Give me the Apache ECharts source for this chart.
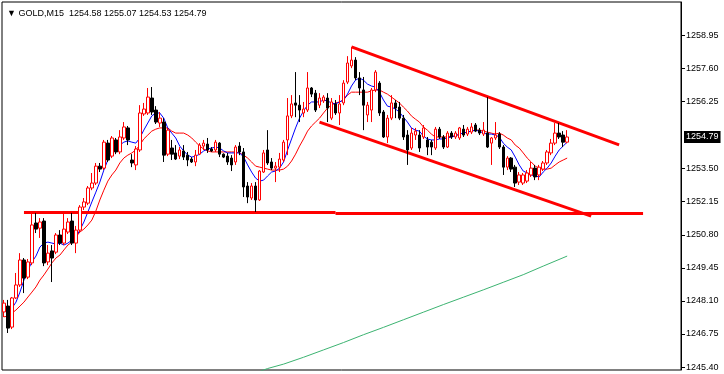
<!DOCTYPE html>
<html>
<head>
<meta charset="utf-8">
<script src="https://cdn.jsdelivr.net/npm/echarts@6/dist/echarts.min.js"></script>
<style>
html,body{margin:0;padding:0;background:#fff;}
#chart{width:724px;height:374px;}
</style>
</head>
<body>
<div id="chart"></div>
<script>
var titleText = '\u25BC GOLD,M15  1254.58 1255.07 1254.53 1254.79';
var slotCount = 170;
var tickLabels = ['1245.40','1246.75','1248.10','1249.45','1250.80','1252.15','1253.50','1256.25','1257.60','1258.95'];
var currentPrice = 1254.79;

var opens = [1247.65,1247.89,1247.03,1248.22,1248.75,1249.77,1249.07,1249.65,1251.28,1251.07,
1251.36,1249.69,1250.14,1250.09,1250.79,1250.46,1250.91,1251.36,1250.46,1250.99,
1251.93,1252.09,1252.71,1252.91,1253.60,1253.52,1254.54,1254.01,1254.67,1254.18,
1254.75,1255.16,1253.85,1253.65,1254.26,1255.73,1255.77,1256.38,1255.89,1255.36,
1255.40,1254.09,1254.34,1254.14,1254.01,1254.22,1254.05,1253.89,1253.77,1254.09,
1254.42,1254.50,1254.30,1254.26,1254.54,1254.09,1254.01,1253.93,1253.77,1254.42,
1254.18,1252.79,1252.30,1252.79,1252.22,1253.36,1254.26,1253.77,1253.52,1253.56,
1253.85,1254.67,1255.65,1256.18,1256.09,1255.77,1255.89,1256.79,1256.58,1256.09,
1256.26,1256.38,1255.56,1256.14,1255.77,1256.18,1257.03,1257.69,1257.93,1257.20,
1256.71,1255.69,1255.89,1256.71,1256.99,1255.81,1254.79,1255.56,1256.18,1256.01,
1255.56,1254.87,1254.34,1254.87,1254.87,1254.79,1254.67,1254.58,1254.34,1255.11,
1254.79,1254.38,1254.95,1254.79,1254.75,1255.11,1254.91,1254.99,1255.28,1255.07,
1254.91,1254.95,1254.54,1254.75,1254.91,1254.38,1253.56,1253.93,1253.56,1252.95,
1252.91,1252.99,1253.24,1253.52,1253.24,1253.48,1253.73,1254.14,1254.54,1254.95,
1254.87,1254.58];

var closes = [1248.01,1246.99,1248.22,1248.75,1249.77,1249.03,1249.69,1251.20,1251.03,1251.32,
1249.65,1250.05,1249.85,1250.79,1250.46,1251.03,1251.32,1250.46,1250.99,1251.93,
1252.14,1252.71,1252.91,1253.60,1253.48,1254.58,1253.85,1254.75,1254.18,1254.79,
1255.20,1254.67,1253.73,1254.30,1255.77,1255.93,1256.42,1255.81,1255.40,1255.56,
1254.05,1255.07,1254.09,1253.89,1254.26,1253.97,1253.85,1253.77,1254.05,1254.46,
1254.54,1254.26,1254.22,1254.58,1254.09,1253.97,1253.77,1253.65,1254.38,1254.18,
1252.75,1252.34,1252.79,1252.22,1253.40,1254.14,1253.73,1253.52,1253.60,1253.89,
1254.58,1255.65,1256.14,1256.09,1255.89,1255.93,1256.79,1256.54,1255.89,1256.38,
1256.42,1255.97,1256.22,1255.77,1256.14,1256.99,1257.81,1257.93,1257.20,1256.79,
1256.09,1256.09,1256.71,1257.44,1255.77,1254.79,1255.56,1256.18,1255.97,1255.56,
1254.79,1254.26,1254.95,1255.03,1254.34,1255.16,1254.38,1254.38,1255.11,1254.79,
1254.38,1254.95,1254.79,1254.95,1255.16,1254.87,1255.11,1255.20,1255.03,1254.95,
1255.07,1254.38,1254.75,1254.87,1254.38,1253.56,1253.93,1253.48,1252.91,1253.24,
1253.24,1253.32,1253.52,1253.16,1253.56,1253.73,1254.18,1254.54,1254.95,1254.79,
1254.58,1254.79];

var lows = [1247.44,1246.79,1246.95,1248.18,1248.67,1248.42,1248.99,1249.56,1250.87,1250.67,
1249.52,1249.56,1248.87,1250.01,1250.38,1250.38,1250.83,1250.38,1250.05,1250.91,
1251.81,1252.01,1252.62,1252.83,1253.36,1253.44,1253.77,1253.93,1254.09,1254.09,
1254.67,1254.46,1253.56,1253.44,1254.18,1255.65,1255.69,1255.69,1255.32,1255.20,
1253.77,1254.01,1253.85,1253.85,1253.89,1253.85,1253.60,1253.73,1253.60,1254.05,
1254.26,1254.14,1254.18,1254.18,1253.97,1253.93,1253.65,1253.40,1253.65,1254.05,
1252.34,1252.09,1252.22,1251.73,1252.18,1253.32,1253.65,1253.44,1252.95,1253.36,
1253.77,1254.05,1255.56,1255.60,1255.40,1255.60,1255.81,1256.42,1255.81,1255.97,
1256.18,1255.40,1255.48,1255.69,1255.28,1256.09,1256.95,1257.60,1257.11,1256.50,
1255.07,1255.40,1255.40,1256.62,1255.65,1254.75,1254.54,1255.48,1255.56,1255.48,
1254.67,1253.65,1254.26,1254.67,1254.18,1254.71,1254.05,1254.05,1254.26,1254.71,
1254.30,1254.34,1254.71,1254.71,1254.67,1254.79,1254.83,1254.91,1254.99,1254.87,
1254.83,1254.34,1253.65,1254.67,1254.30,1253.24,1253.44,1253.36,1252.75,1252.83,
1252.83,1252.91,1253.16,1253.03,1253.03,1253.40,1253.65,1254.05,1254.46,1254.71,
1254.38,1254.53];

var highs = [1248.14,1248.14,1248.26,1249.24,1250.05,1249.85,1249.81,1251.69,1251.69,1251.48,
1251.48,1250.38,1250.38,1250.87,1250.99,1251.69,1251.48,1251.69,1251.16,1252.01,
1252.30,1252.79,1253.32,1253.73,1253.73,1254.67,1254.67,1254.83,1254.75,1255.07,
1255.40,1255.24,1254.09,1254.42,1256.09,1256.18,1256.79,1256.83,1256.05,1255.81,
1255.56,1255.16,1254.67,1254.46,1254.38,1254.46,1254.18,1253.97,1254.26,1254.54,
1254.67,1254.75,1254.38,1254.67,1254.58,1254.12,1254.14,1254.05,1254.46,1254.58,
1254.34,1252.95,1252.91,1252.95,1253.44,1254.26,1255.07,1253.93,1253.77,1254.14,
1254.67,1256.38,1256.50,1257.44,1256.50,1256.22,1257.44,1256.83,1256.71,1256.58,
1256.50,1256.58,1256.38,1256.30,1256.50,1257.11,1258.09,1258.46,1258.05,1257.44,
1257.24,1256.22,1256.79,1257.52,1257.07,1255.89,1255.69,1256.50,1256.30,1256.22,
1255.69,1255.07,1255.16,1255.16,1255.07,1255.28,1254.79,1254.67,1255.20,1255.20,
1254.87,1255.03,1255.03,1255.03,1255.20,1255.28,1255.20,1255.36,1255.36,1255.16,
1255.40,1256.42,1254.79,1255.40,1254.99,1254.46,1254.01,1253.97,1253.65,1253.36,
1253.32,1253.44,1253.77,1253.65,1253.65,1253.81,1254.26,1254.71,1255.36,1255.36,
1255.03,1255.07];

var maFast = [1247.66,1247.69,1247.81,1248.05,1248.46,1248.95,1249.36,1249.69,1249.93,1250.30,
1250.46,1250.50,1250.46,1250.42,1250.46,1250.38,1250.46,1250.58,1250.71,1250.99,
1251.32,1251.73,1252.14,1252.54,1252.95,1253.44,1253.85,1254.14,1254.34,1254.46,
1254.58,1254.63,1254.58,1254.54,1254.75,1255.07,1255.36,1255.65,1255.77,1255.77,
1255.56,1255.16,1254.95,1254.75,1254.42,1254.22,1254.05,1253.97,1254.01,1254.09,
1254.22,1254.30,1254.34,1254.38,1254.34,1254.22,1254.14,1254.14,1254.14,1254.14,
1253.97,1253.65,1253.36,1253.11,1252.99,1253.03,1253.20,1253.36,1253.40,1253.52,
1253.77,1254.26,1254.71,1255.16,1255.56,1255.85,1256.09,1256.22,1256.22,1256.22,
1256.30,1256.26,1256.18,1256.14,1256.22,1256.30,1256.54,1256.87,1257.11,1257.20,
1257.11,1256.95,1256.87,1256.83,1256.62,1256.30,1256.05,1256.01,1255.93,1255.81,
1255.60,1255.40,1255.16,1255.07,1255.03,1254.83,1254.71,1254.67,1254.67,1254.71,
1254.71,1254.75,1254.79,1254.83,1254.91,1254.95,1254.99,1255.03,1255.07,1255.03,
1254.95,1254.91,1254.91,1254.87,1254.79,1254.54,1254.38,1254.26,1253.97,1253.65,
1253.40,1253.32,1253.24,1253.20,1253.16,1253.36,1253.52,1253.73,1254.01,1254.26,
1254.42,1254.58];

var maSlow = [1247.45,1247.48,1247.60,1247.73,1247.89,1248.05,1248.26,1248.46,1248.67,1248.95,
1249.16,1249.40,1249.65,1249.85,1249.97,1250.18,1250.38,1250.50,1250.71,1250.91,
1251.03,1251.20,1251.40,1251.77,1252.22,1252.62,1252.99,1253.24,1253.44,1253.73,
1253.93,1254.05,1254.14,1254.26,1254.46,1254.71,1254.87,1255.03,1255.11,1255.16,
1255.16,1255.16,1255.03,1254.95,1254.95,1254.95,1254.87,1254.75,1254.58,1254.42,
1254.30,1254.22,1254.18,1254.18,1254.18,1254.18,1254.18,1254.18,1254.18,1254.14,
1254.05,1253.93,1253.77,1253.60,1253.56,1253.52,1253.48,1253.44,1253.44,1253.44,
1253.48,1253.60,1253.81,1254.09,1254.42,1254.71,1255.03,1255.24,1255.40,1255.56,
1255.77,1255.97,1256.09,1256.18,1256.22,1256.30,1256.50,1256.62,1256.62,1256.62,
1256.62,1256.62,1256.67,1256.71,1256.71,1256.62,1256.54,1256.42,1256.30,1256.18,
1256.01,1255.85,1255.65,1255.52,1255.40,1255.20,1255.07,1254.91,1254.79,1254.79,
1254.79,1254.79,1254.83,1254.83,1254.91,1254.95,1254.99,1255.03,1255.07,1255.07,
1255.03,1254.99,1254.95,1254.91,1254.95,1254.87,1254.75,1254.67,1254.46,1254.34,
1254.14,1253.93,1253.77,1253.60,1253.52,1253.48,1253.48,1253.52,1253.65,1253.77,
1253.85,1253.93];

// long moving average, read at sparse candle positions
var maLongIdx = [64,66,70,75,80,85,90,95,100,105,110,115,120,125,130,135,141];
var maLongVal = [1245.22,1245.34,1245.52,1245.80,1246.10,1246.40,1246.72,1247.02,1247.33,1247.64,1247.95,1248.25,1248.55,1248.86,1249.17,1249.52,1249.93];

// drawn trend lines: [startIndex, startPrice, endIndex, endPrice]
var channelTop = [87, 1258.47, 154, 1254.47];
var channelBottom = [79, 1255.40, 147, 1251.56];
var supportA = [5, 1251.71, 83, 1251.71];
var supportB = [83, 1251.67, 160, 1251.67];

var categories = [];
for (var k = 0; k < slotCount; k++) categories.push(k);

var candleData = opens.map(function (o, i) { return [o, closes[i], lows[i], highs[i]]; });
var longData = maLongIdx.map(function (ix, j) { return [ix, maLongVal[j]]; });

function seg(s) { return [[s[0], s[1]], [s[2], s[3]]]; }
function lineSeries(name, data, color, width) {
  return {
    name: name, type: 'line', data: data, symbol: 'none', silent: true,
    lineStyle: { color: color, width: width }, z: 3, clip: true
  };
}

var FONT = 'Liberation Sans, DejaVu Sans, sans-serif';
var chart = echarts.init(document.getElementById('chart'), null, { renderer: 'canvas' });
chart.setOption({
  animation: false,
  backgroundColor: '#ffffff',
  title: {
    text: titleText, left: 2, top: 4,
    textStyle: { fontFamily: FONT, fontSize: 9, fontWeight: 'normal', color: '#000' }
  },
  grid: { left: 2, right: 43, top: 2, bottom: 4, show: true, borderColor: '#000', borderWidth: 1, backgroundColor: '#fff' },
  xAxis: {
    type: 'category', data: categories, boundaryGap: true,
    axisLine: { show: false }, axisTick: { show: false }, axisLabel: { show: false }, splitLine: { show: false }
  },
  yAxis: {
    type: 'value', position: 'right', min: 1245.28, max: 1260.30, scale: true,
    axisLine: { show: true, lineStyle: { color: '#000', width: 1 } },
    axisTick: { show: true, length: 4, lineStyle: { color: '#000' }, customValues: tickLabels.map(Number) },
    axisLabel: {
      show: true, margin: 5, color: '#000', fontSize: 9, fontFamily: FONT,
      customValues: tickLabels.map(Number),
      formatter: function (v) { return v.toFixed(2); }
    },
    splitLine: { show: false }
  },
  series: [
    lineSeries('maLong', longData, '#3cb371', 1),
    lineSeries('maSlow', maSlow, '#ff0000', 1),
    lineSeries('maFast', maFast, '#0000ff', 1),
    {
      name: 'GOLD', type: 'candlestick', data: candleData, barWidth: 3, z: 4,
      itemStyle: { color: '#ffffff', color0: '#000000', borderColor: '#ff0000', borderColor0: '#000000', borderWidth: 1 },
      markLine: {
        silent: true, symbol: ['none', 'none'], animation: false,
        lineStyle: { color: 'rgba(0,0,0,0)', width: 1, type: 'solid' },
        label: {
          show: true, position: 'end', distance: 3, formatter: currentPrice.toFixed(2),
          color: '#fff', backgroundColor: '#000', padding: [2, 2, 1, 2], fontSize: 9, fontFamily: FONT
        },
        data: [{ yAxis: currentPrice }]
      }
    },
    lineSeries('channelTop', seg(channelTop), '#ff0000', 3),
    lineSeries('channelBottom', seg(channelBottom), '#ff0000', 3),
    lineSeries('supportA', seg(supportA), '#ff0000', 3),
    lineSeries('supportB', seg(supportB), '#ff0000', 3)
  ]
});
</script>
</body>
</html>
